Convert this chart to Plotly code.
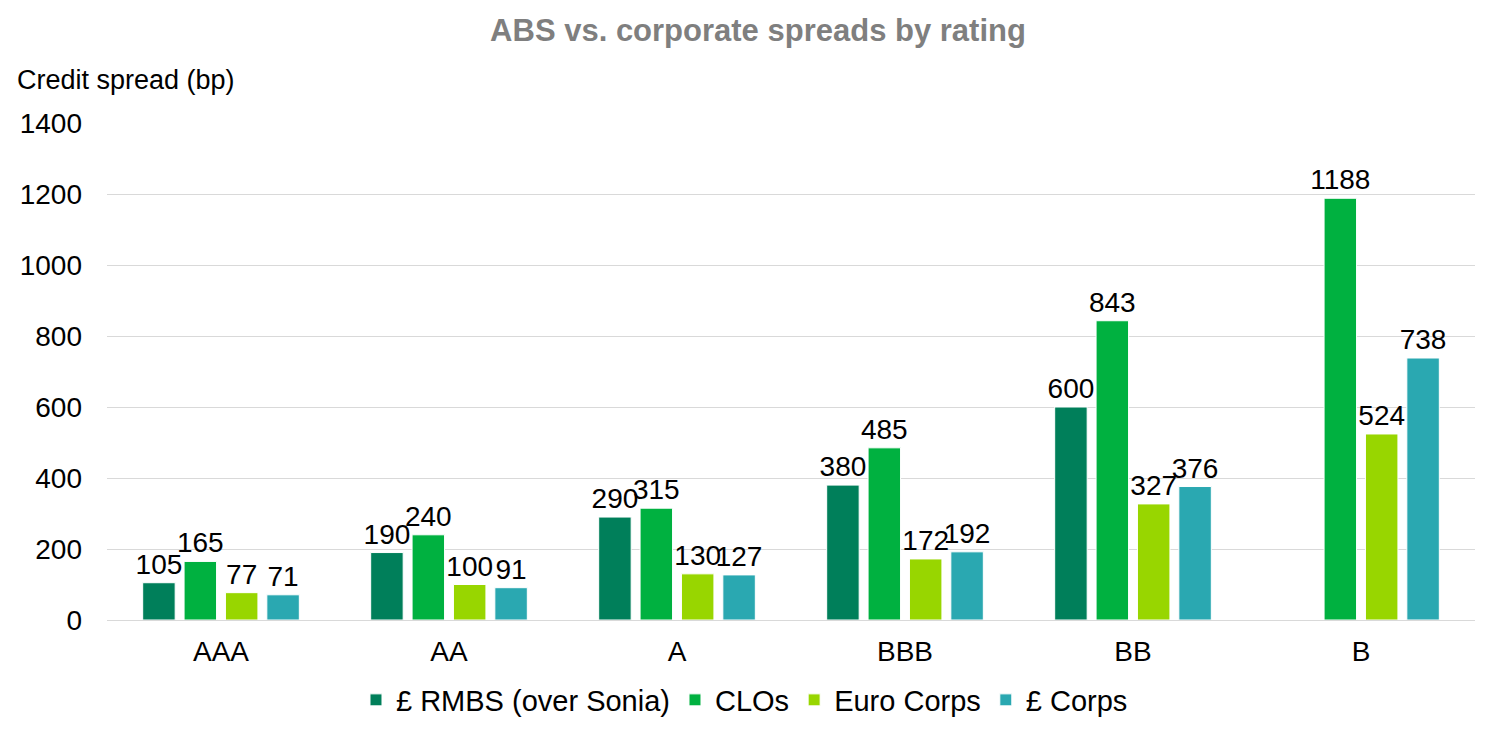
import plotly.graph_objects as go

ratings = ["AAA", "AA", "A", "BBB", "BB", "B"]
rmbs = [105, 190, 290, 380, 600, None]
clos = [165, 240, 315, 485, 843, 1188]
euro_corps = [77, 100, 130, 172, 327, 524]
gbp_corps = [71, 91, 127, 192, 376, 738]

series = [
    ("£ RMBS (over Sonia)", rmbs, "#007F5A"),
    ("CLOs", clos, "#00B140"),
    ("Euro Corps", euro_corps, "#98D600"),
    ("£ Corps", gbp_corps, "#2AA8B1"),
]

FONT = "Liberation Sans, Arial"

fig = go.Figure()
for name, vals, col in series:
    fig.add_trace(go.Bar(
        x=ratings, y=vals, name=name,
        marker=dict(color=col, line=dict(color="white", width=1)),
        text=[("" if v is None else str(v)) for v in vals],
        textposition="outside",
        textfont=dict(size=28, color="black", family=FONT),
        cliponaxis=False,
    ))

# page body has an 8px offset, margins compensate for it
fig.update_layout(
    width=1500, height=739,
    paper_bgcolor="white", plot_bgcolor="white",
    font=dict(family=FONT, size=28, color="black"),
    title=dict(text="<b>ABS vs. corporate spreads by rating</b>", x=0.5, xanchor="center",
               y=0.970, yanchor="middle", font=dict(size=31, color="#7F7F7F")),
    margin=dict(l=97, r=33, t=115, b=127),
    barmode="group", bargap=0.274, bargroupgap=0.215,
    uniformtext=dict(minsize=28, mode="show"),
    showlegend=True,
    legend=dict(orientation="h", x=0.466, xanchor="center", y=-0.161, yanchor="middle",
                font=dict(size=29), itemwidth=30, traceorder="normal"),
    annotations=[dict(text="Credit spread (bp)", xref="paper", yref="paper",
                      x=-0.067, y=1.0865, xanchor="left", yanchor="middle",
                      showarrow=False, font=dict(size=27))],
)
fig.update_yaxes(range=[0, 1400], dtick=200, showgrid=True, gridcolor="#D9D9D9",
                 gridwidth=1, zeroline=False, ticks="", ticklabelstandoff=24,
                 tickfont=dict(size=28))
fig.update_xaxes(showline=True, linecolor="#D9D9D9", linewidth=1, ticks="",
                 ticklabelstandoff=6, tickfont=dict(size=28))

fig.write_html("out.html")
